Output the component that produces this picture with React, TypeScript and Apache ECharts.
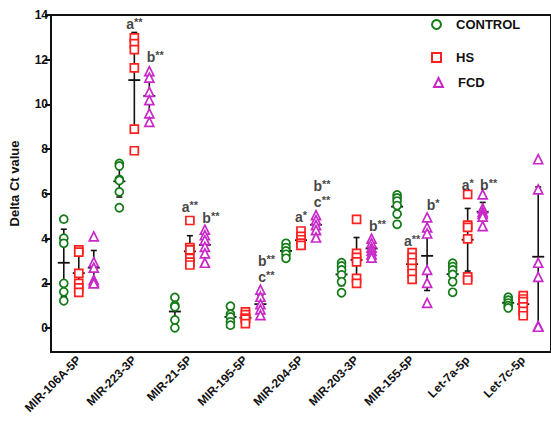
import { useEffect, useRef } from 'react';
import * as echarts from 'echarts';

const categories = ['MIR-106A-5P', 'MIR-223-3P', 'MIR-21-5P', 'MIR-195-5P', 'MIR-204-5P', 'MIR-203-3P', 'MIR-155-5P', 'Let-7a-5p', 'Let-7c-5p'];
const yTicks = [0, 2, 4, 6, 8, 10, 12, 14];

const controlValues = [
  [4.87, 4.02, 3.79, 2.0, 1.62, 1.22],
  [7.36, 7.25, 6.65, 6.6, 6.09, 5.38],
  [1.37, 1.01, 0.95, 0.36, 0.01],
  [0.98, 0.62, 0.5, 0.28, 0.13],
  [3.79, 3.6, 3.45, 3.3, 3.12],
  [2.92, 2.78, 2.6, 2.38, 2.07, 1.58],
  [5.95, 5.82, 5.68, 5.48, 5.1, 4.64],
  [2.9, 2.75, 2.6, 2.4, 2.07, 1.6],
  [1.38, 1.25, 1.12, 1.0, 0.9],
];
const hsValues = [
  [3.5, 3.4, 2.45, 2.0, 1.8, 1.6],
  [12.98, 12.72, 12.45, 11.64, 8.9, 7.93],
  [4.81, 3.6, 3.5, 3.12, 2.95, 2.82],
  [0.72, 0.6, 0.45, 0.4, 0.2],
  [4.34, 4.1, 3.95, 3.8, 3.7],
  [4.86, 3.34, 3.16, 2.96, 2.22, 2.0],
  [3.37, 3.16, 2.92, 2.67, 2.44, 2.18],
  [5.98, 4.6, 4.5, 3.99, 2.29, 2.15],
  [1.45, 1.3, 1.18, 0.95, 0.75, 0.55],
];
const fcdValues = [
  [4.1, 2.95, 2.7, 2.15, 2.05, 2.0],
  [11.49, 11.2, 10.56, 10.19, 9.6, 9.22],
  [4.4, 4.16, 3.93, 3.63, 3.34, 2.92],
  [1.72, 1.4, 1.07, 0.84, 0.58],
  [5.05, 4.83, 4.6, 4.38, 4.05],
  [4.0, 3.8, 3.6, 3.45, 3.3, 3.15],
  [4.95, 4.5, 4.23, 2.6, 2.02, 1.13],
  [5.98, 5.35, 5.2, 5.1, 4.98, 4.56],
  [7.55, 6.2, 2.92, 2.29, 0.1, 0.06],
];

const controlMean = [2.92, 6.56, 0.74, 0.5, 3.45, 2.4, 5.43, 2.41, 1.13];
const controlSd = [1.5, 0.7, 0.55, 0.33, 0.27, 0.5, 0.48, 0.48, 0.2];
const hsMean = [2.46, 11.09, 3.43, 0.46, 3.93, 3.05, 2.86, 3.95, 1.07];
const hsSd = [0.8, 2.13, 0.7, 0.22, 0.25, 1.0, 0.45, 1.4, 0.33];
const fcdMean = [2.7, 10.38, 3.72, 1.07, 4.62, 3.56, 3.23, 5.2, 3.19];
const fcdSd = [0.77, 0.9, 0.5, 0.4, 0.35, 0.32, 1.55, 0.42, 3.12];

const annCat = [1, 1, 2, 2, 3, 3, 4, 4, 4, 5, 6, 6, 7, 7];
const annGroup = ['HS', 'FCD', 'HS', 'FCD', 'FCD', 'FCD', 'HS', 'FCD', 'FCD', 'FCD', 'HS', 'FCD', 'HS', 'FCD'];
const annY = [13.58, 12.13, 5.42, 4.9, 2.98, 2.3, 4.97, 6.36, 5.65, 4.56, 3.9, 5.5, 6.39, 6.39];
const annLetter = ['a', 'b', 'a', 'b', 'b', 'c', 'a', 'b', 'c', 'b', 'a', 'b', 'a', 'b'];
const annStars = ['**', '**', '**', '**', '**', '**', '*', '**', '**', '**', '**', '*', '*', '**'];

const FONT = 'Liberation Sans, Arial, Helvetica, sans-serif';
const GREEN = '#127a16';
const RED = '#ff1f1f';
const MAGENTA = '#c828c8';
const offsets: Record<string, number> = { CONTROL: -0.27, HS: 0, FCD: 0.27 };
const labelShift: Record<string, number> = { CONTROL: 0, HS: 0, FCD: 6 };

export default function App() {
  const ref = useRef<HTMLDivElement>(null);
  useEffect(() => {
    if (!ref.current) return;
    const chart = echarts.init(ref.current, undefined, { renderer: 'svg' });

    const pts = (vals: number[][], off: number) => {
      const out: number[][] = [];
      vals.forEach((g, i) => g.forEach((v) => out.push([i + off, v])));
      return out;
    };
    const bars = (mean: number[], sd: number[], off: number) => mean.map((m, i) => [i + off, m, sd[i]]);

    const allBars = [
      ...bars(controlMean, controlSd, offsets.CONTROL),
      ...bars(hsMean, hsSd, offsets.HS),
      ...bars(fcdMean, fcdSd, offsets.FCD),
    ];

    const annData = annCat.map((c, i) => ({
      value: [c + offsets[annGroup[i]], annY[i]],
      label: { offset: [labelShift[annGroup[i]], 0] },
    }));

    const scatter = (name: string, symbol: string, color: string, data: number[][], size: number) => ({
      name,
      type: 'scatter',
      xAxisIndex: 1,
      symbol,
      symbolSize: size,
      data,
      z: 5,
      itemStyle: { color: '#ffffff', borderColor: color, borderWidth: 1.7, opacity: 1 },
    });

    const legendBase = {
      orient: 'horizontal',
      itemWidth: 9,
      itemHeight: 9,
      itemGap: 5,
      textStyle: { fontFamily: FONT, fontWeight: 'bold', fontSize: 13, color: '#111', padding: [0, 0, 0, 10] },
      selectedMode: false,
    };

    chart.setOption({
      animation: false,
      backgroundColor: '#ffffff',
      grid: { left: 49, top: 15, bottom: 69, right: -8, show: true, borderColor: '#111', borderWidth: 2, backgroundColor: 'transparent' },
      legend: [
        { ...legendBase, data: [{ name: 'CONTROL', icon: 'circle' }], left: 426, top: 13 },
        { ...legendBase, data: [{ name: 'HS', icon: 'rect' }], left: 426, top: 46 },
        { ...legendBase, data: [{ name: 'FCD', icon: 'triangle' }], left: 428, top: 71 },
      ],
      xAxis: [
        {
          type: 'category',
          data: categories,
          boundaryGap: true,
          axisLine: { onZero: false, lineStyle: { color: '#111', width: 2 } },
          axisTick: { alignWithLabel: true, length: 5, lineStyle: { color: '#111', width: 2 } },
          axisLabel: { interval: 0, rotate: 45, margin: 6, fontFamily: FONT, fontWeight: 'bold', fontSize: 12, color: '#111' },
          splitLine: { show: false },
        },
        {
          type: 'value',
          min: -0.5,
          max: 8.5,
          show: false,
          axisLine: { onZero: false },
          splitLine: { show: false },
        },
      ],
      yAxis: {
        type: 'value',
        min: -1.07,
        max: 14,
        name: 'Delta Ct value',
        nameLocation: 'middle',
        nameGap: 30,
        nameTextStyle: { fontFamily: FONT, fontWeight: 'bold', fontSize: 13, color: '#111' },
        axisLine: { show: true, onZero: false, lineStyle: { color: '#111', width: 2 } },
        axisTick: { show: true, length: 6, customValues: yTicks, lineStyle: { color: '#111', width: 2 } },
        axisLabel: { customValues: yTicks, margin: 3, fontFamily: FONT, fontWeight: 'bold', fontSize: 12, color: '#111' },
        splitLine: { show: false },
      },
      series: [
        {
          type: 'custom',
          xAxisIndex: 1,
          data: allBars,
          encode: { x: 0, y: 1 },
          z: 2,
          silent: true,
          renderItem: (_params: any, api: any) => {
            const x = api.value(0);
            const m = api.value(1);
            const sd = api.value(2);
            const c = api.coord([x, m]);
            const t = api.coord([x, m + sd]);
            const b = api.coord([x, m - sd]);
            const st = { stroke: '#111', lineWidth: 1.6 };
            return {
              type: 'group',
              children: [
                { type: 'line', shape: { x1: c[0], y1: t[1], x2: c[0], y2: b[1] }, style: st },
                { type: 'line', shape: { x1: c[0] - 6, y1: c[1], x2: c[0] + 6, y2: c[1] }, style: { stroke: '#111', lineWidth: 1.8 } },
                { type: 'line', shape: { x1: c[0] - 3, y1: t[1], x2: c[0] + 3, y2: t[1] }, style: st },
                { type: 'line', shape: { x1: c[0] - 3, y1: b[1], x2: c[0] + 3, y2: b[1] }, style: st },
              ],
            };
          },
        },
        scatter('CONTROL', 'circle', GREEN, pts(controlValues, offsets.CONTROL), 8),
        scatter('HS', 'rect', RED, pts(hsValues, offsets.HS), 8),
        scatter('FCD', 'triangle', MAGENTA, pts(fcdValues, offsets.FCD), 9),
        {
          type: 'scatter',
          xAxisIndex: 1,
          data: annData,
          symbolSize: 1,
          itemStyle: { color: 'rgba(0,0,0,0)' },
          silent: true,
          z: 6,
          label: {
            show: true,
            position: 'inside',
            formatter: (p: any) => `{m|${annLetter[p.dataIndex]}}{s|${annStars[p.dataIndex]}}`,
            rich: {
              m: { fontFamily: FONT, fontWeight: 'bold', fontSize: 14, color: '#111', lineHeight: 15 },
              s: { fontFamily: FONT, fontWeight: 'bold', fontSize: 11, color: '#111', lineHeight: 10, verticalAlign: 'top' },
            },
          },
        },
      ],
    });
    return () => chart.dispose();
  }, []);
  return <div ref={ref} style={{ position: 'fixed', left: 0, top: 0, width: 551, height: 421 }} />;
}
